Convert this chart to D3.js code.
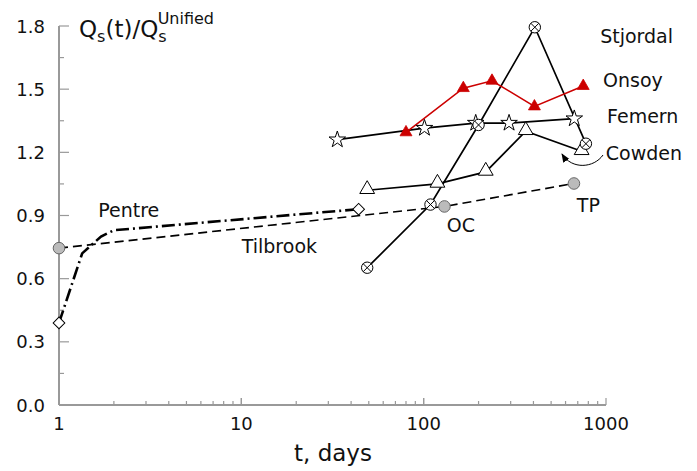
<!DOCTYPE html>
<html><head><meta charset="utf-8">
<script src="https://cdn.jsdelivr.net/npm/d3@7"></script>
<style>body{margin:0;background:#fff}svg{display:block}text{font-family:"DejaVu Sans",Verdana,sans-serif}</style>
</head><body><svg id="c" width="697" height="471"></svg>
<script>
const pentre = [[1,0.39],[1.34,0.72],[1.7,0.80],[2,0.83],[44,0.93]];
const pentreMarks = [[1,0.39],[44,0.93]];
const tilbrook = [[1,0.745],[130,0.943],[667,1.052]];
const tilbrookMarks = [[1,0.745],[130,0.943],[667,1.052]];
const stjordal = [[49,0.652],[109,0.952],[200,1.33],[407,1.794],[776,1.241]];
const onsoy = [[80,1.295],[165,1.505],[237,1.54],[405,1.418],[750,1.515]];
const femern = [[33.6,1.26],[101,1.315],[193,1.339],[294,1.339],[670,1.36]];
const cowden = [[49,1.02],[119,1.05],[219,1.107],[363,1.30],[735,1.205]];
const yTicks = [0.0,0.3,0.6,0.9,1.2,1.5,1.8];
const xTicks = [1,10,100,1000];
const labels = [
  {t:"Stjordal", x:929, y:1.719},
  {t:"Onsoy", x:964, y:1.51},
  {t:"Femern", x:1014, y:1.339},
  {t:"Cowden", x:997, y:1.163},
  {t:"TP", x:692, y:0.916},
  {t:"OC", x:134, y:0.821},
  {t:"Pentre", x:1.64, y:0.893},
  {t:"Tilbrook", x:10.05, y:0.723}
];

const svg = d3.select("#c");
const x = d3.scaleLog().domain([1,1000]).range([59,606]);
const y = d3.scaleLinear().domain([0,1.8]).range([405,26]);
const axisCol = "#999";

// y axis
svg.append("line").attr("x1",59).attr("x2",59).attr("y1",y(1.8)).attr("y2",y(0)).attr("stroke",axisCol).attr("stroke-width",2);
for (let v=0; v<=1.8001; v+=0.15) {
  const major = Math.abs(v/0.3 - Math.round(v/0.3))<1e-6;
  svg.append("line").attr("x1",59).attr("x2",59+(major?10:5)).attr("y1",y(v)).attr("y2",y(v)).attr("stroke",axisCol).attr("stroke-width",1.2);
}
yTicks.forEach(v=>{
  svg.append("text").attr("x",45).attr("y",y(v)+6.5).attr("text-anchor","end").attr("font-size",18).attr("fill","#111").text(v.toFixed(1));
});
// x axis
svg.append("line").attr("x1",59).attr("x2",606).attr("y1",405).attr("y2",405).attr("stroke",axisCol).attr("stroke-width",2);
for (let d=1; d<1000; d*=10) {
  for (let k=1;k<=10;k++){
    const t=d*k; const major=(k===1||k===10);
    svg.append("line").attr("x1",x(t)).attr("x2",x(t)).attr("y1",405).attr("y2",405-(major?7:4)).attr("stroke",axisCol).attr("stroke-width",1.2);
  }
}
xTicks.forEach(t=>{
  svg.append("text").attr("x",x(t)).attr("y",430).attr("text-anchor","middle").attr("font-size",18).attr("fill","#111").text(t);
});
svg.append("text").attr("x",333).attr("y",461).attr("text-anchor","middle").attr("font-size",23).attr("fill","#111").text("t, days");

// y label
const yl = svg.append("text").attr("x",79).attr("y",37).attr("font-size",23).attr("fill","#111");
yl.append("tspan").text("Q");
yl.append("tspan").attr("font-size",16).attr("dy",5).text("s");
yl.append("tspan").attr("dy",-5).text("(t)/Q");
yl.append("tspan").attr("font-size",16).attr("dy",5).text("s");
yl.append("tspan").attr("font-size",16).attr("dx",-9).attr("dy",-18).text("Unified");

const line = d3.line().x(d=>x(d[0])).y(d=>y(d[1]));

svg.append("path").attr("d",line(tilbrook)).attr("fill","none").attr("stroke","#000").attr("stroke-width",1.6).attr("stroke-dasharray","9,5");
svg.append("path").attr("d",line(pentre)).attr("fill","none").attr("stroke","#000").attr("stroke-width",2.6).attr("stroke-dasharray","13,4,2,4");
svg.append("path").attr("d",line(stjordal)).attr("fill","none").attr("stroke","#000").attr("stroke-width",1.7);
svg.append("path").attr("d",line(femern)).attr("fill","none").attr("stroke","#000").attr("stroke-width",1.7);
svg.append("path").attr("d",line(cowden)).attr("fill","none").attr("stroke","#000").attr("stroke-width",1.7);
svg.append("path").attr("d",line(onsoy)).attr("fill","none").attr("stroke","#cc0000").attr("stroke-width",1.6);

const tri = d3.symbol().type(d3.symbolTriangle);
// Cowden open triangles
svg.selectAll(".cw").data(cowden).join("path").attr("d",tri.size(95)()).attr("transform",d=>`translate(${x(d[0])},${y(d[1])-1})`).attr("fill","#fff").attr("stroke","#000").attr("stroke-width",1);
// Femern stars
svg.selectAll(".fm").data(femern).join("path").attr("d",d3.symbol().type(d3.symbolStar).size(85)()).attr("transform",d=>`translate(${x(d[0])},${y(d[1])})`).attr("fill","#fff").attr("stroke","#000").attr("stroke-width",1);
// Onsoy red triangles
svg.selectAll(".on").data(onsoy).join("path").attr("d",tri.size(62)()).attr("transform",d=>`translate(${x(d[0])},${y(d[1])})`).attr("fill","#cc0000").attr("stroke","#cc0000").attr("stroke-width",0.8);
// Stjordal crossed circles
const sj = svg.selectAll(".sj").data(stjordal).join("g").attr("transform",d=>`translate(${x(d[0])},${y(d[1])})`);
sj.append("circle").attr("r",5.7).attr("fill","#fff").attr("stroke","#000").attr("stroke-width",1);
sj.append("path").attr("d","M-4,-4L4,4M-4,4L4,-4").attr("stroke","#000").attr("stroke-width",1);
// Pentre diamonds
svg.selectAll(".pd").data(pentreMarks).join("path").attr("d",d3.symbol().type(d3.symbolSquare).size(68)()).attr("transform",d=>`translate(${x(d[0])},${y(d[1])}) rotate(45)`).attr("fill","#fff").attr("stroke","#000").attr("stroke-width",1);
// Gray circles
svg.selectAll(".gc").data(tilbrookMarks).join("circle").attr("cx",d=>x(d[0])).attr("cy",d=>y(d[1])).attr("r",5.8).attr("fill","#bbb").attr("stroke","#666").attr("stroke-width",1);

labels.forEach(l=>{
  svg.append("text").attr("x",x(l.x)).attr("y",y(l.y)).attr("font-size",19).attr("fill","#111").text(l.t);
});

// arrow
svg.append("defs").append("marker").attr("id","ah").attr("viewBox","0 0 10 10").attr("refX",9).attr("refY",5).attr("markerWidth",9).attr("markerHeight",9).attr("markerUnits","userSpaceOnUse").attr("orient","auto")
  .append("path").attr("d","M0,1L10,5L0,9Z").attr("fill","#000");
svg.append("path").attr("d","M603,155 C594,168 572,170 562,154").attr("fill","none").attr("stroke","#000").attr("stroke-width",1).attr("marker-end","url(#ah)");
</script></body></html>
